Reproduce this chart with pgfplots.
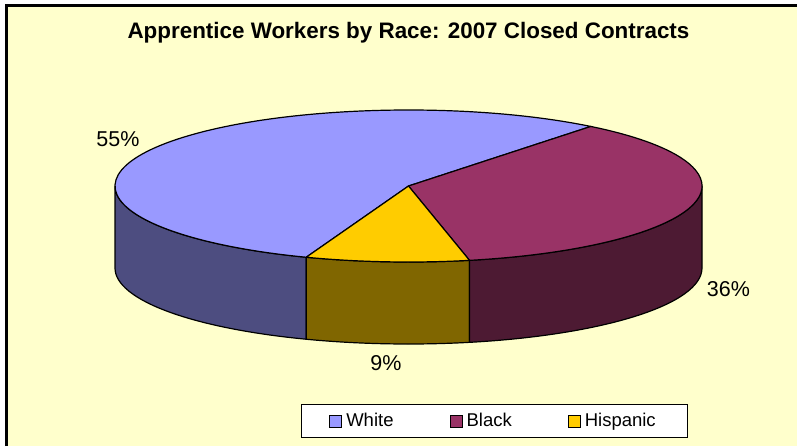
\documentclass[border=0pt]{standalone}
\usepackage{fontspec}
\setmainfont{Liberation Sans}
\usepackage{pgfplots}
\pgfplotsset{compat=1.18}
\usetikzlibrary{calc}
\definecolor{bgy}{HTML}{FFFFCC}
\definecolor{wtop}{HTML}{9999FF}
\definecolor{wside}{HTML}{4D4D80}
\definecolor{btop}{HTML}{993366}
\definecolor{bside}{HTML}{4D1A33}
\definecolor{htop}{HTML}{FFCC00}
\definecolor{hside}{HTML}{806600}
\begin{document}
\begin{tikzpicture}
% data: percentages
\def\vW{55}\def\vB{36}\def\vH{9}
% rotation of first boundary (White/Black), degrees
\def\rot{51.6}
\pgfmathsetmacro\bS{\rot-3.6*\vB}
\pgfmathsetmacro\hS{\bS-3.6*\vH}
\pgfmathsetmacro\wE{\rot+3.6*\vW}
\pgfmathsetmacro\hSp{\hS+360}
\pgfmathsetmacro\bSp{\bS+360}
\def\rx{146.75pt}\def\ry{38pt}\def\dep{41pt}
\begin{axis}[x=0.5pt,y=0.5pt,xmin=0,xmax=797,ymin=0,ymax=446,hide axis,
  legend columns=3,
  legend style={at={(axis cs:494.5,25)},anchor=center,draw=black,fill=white,line width=0.5pt,
    font=\fontsize{9.25}{11}\selectfont,inner xsep=14pt,inner ysep=2pt,
    /tikz/every even column/.append style={column sep=26pt}},
  legend image code/.code={\filldraw[#1,line width=0.5pt] (0pt,-3pt) rectangle (6pt,3pt);},
  ]
\fill[white] (axis cs:0,0) rectangle (axis cs:797,446);
\fill[bgy] (axis cs:6.5,0) rectangle (axis cs:797,440.5);
\draw[line width=1.5pt] (axis cs:6.5,0) -- (axis cs:6.5,440.5) -- (axis cs:797,440.5);
\coordinate (C) at (axis cs:408.5,260);
\begin{scope}[line width=0.6pt,line join=round]
% side walls
\filldraw[fill=wside] ($(C)+(180:{\rx} and {\ry})$) arc[start angle=180,end angle=\wE,x radius=\rx,y radius=\ry] -- ++(0,-\dep) arc[start angle=\wE,end angle=180,x radius=\rx,y radius=\ry] -- cycle;
\filldraw[fill=hside] ($(C)+(\hSp:{\rx} and {\ry})$) arc[start angle=\hSp,end angle=\bSp,x radius=\rx,y radius=\ry] -- ++(0,-\dep) arc[start angle=\bSp,end angle=\hSp,x radius=\rx,y radius=\ry] -- cycle;
\filldraw[fill=bside] ($(C)+(\bSp:{\rx} and {\ry})$) arc[start angle=\bSp,end angle=360,x radius=\rx,y radius=\ry] -- ++(0,-\dep) arc[start angle=360,end angle=\bSp,x radius=\rx,y radius=\ry] -- cycle;
% tops
\filldraw[fill=wtop] (C) -- ($(C)+(\rot:{\rx} and {\ry})$) arc[start angle=\rot,end angle=\wE,x radius=\rx,y radius=\ry] -- cycle;
\filldraw[fill=btop] (C) -- ($(C)+(\bS:{\rx} and {\ry})$) arc[start angle=\bS,end angle=\rot,x radius=\rx,y radius=\ry] -- cycle;
\filldraw[fill=htop] (C) -- ($(C)+(\hS:{\rx} and {\ry})$) arc[start angle=\hS,end angle=\bS,x radius=\rx,y radius=\ry] -- cycle;
\end{scope}
\node[font=\fontsize{10.75}{12}\selectfont] at (axis cs:118,307) {55\%};
\node[font=\fontsize{10.75}{12}\selectfont] at (axis cs:728.5,156.5) {36\%};
\node[font=\fontsize{10.75}{12}\selectfont] at (axis cs:386,83) {9\%};
\node[anchor=base,font=\bfseries\fontsize{11.2}{13}\selectfont] at (axis cs:408.5,408) {Apprentice Workers by Race: 2007 Closed Contracts};
\addlegendimage{fill=wtop,draw=black}\addlegendentry{White}
\addlegendimage{fill=btop,draw=black}\addlegendentry{Black}
\addlegendimage{fill=htop,draw=black}\addlegendentry{Hispanic}
\end{axis}
\end{tikzpicture}
\end{document}
